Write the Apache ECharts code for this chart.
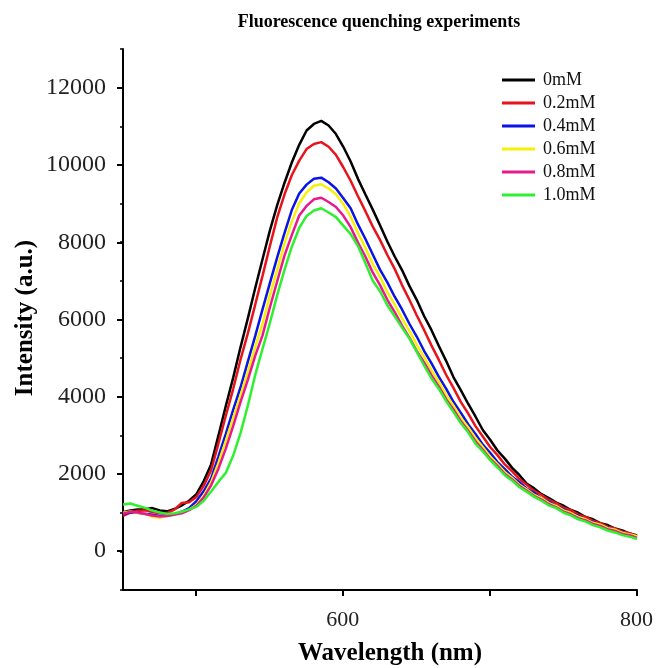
<!DOCTYPE html>
<html lang="en">
<head>
<meta charset="UTF-8">
<title>Fluorescence quenching experiments</title>
<style>
    * {
        margin: 0;
        padding: 0;
    }

    body {
        background-color: #fff;
    }

    #chart {
        width: 656px;
        height: 668px;
    }
</style>
</head>
<body>
<div id="chart"></div>
<script src="https://cdn.jsdelivr.net/npm/echarts@6/dist/echarts.min.js"></script>
<script>
    // wavelength (nm), 5 nm steps
    var wavelength = [
        450, 455, 460, 465, 470, 475, 480, 485, 490, 495,
        500, 505, 510, 515, 520, 525, 530, 535, 540, 545,
        550, 555, 560, 565, 570, 575, 580, 585, 590, 595,
        600, 605, 610, 615, 620, 625, 630, 635, 640, 645,
        650, 655, 660, 665, 670, 675, 680, 685, 690, 695,
        700, 705, 710, 715, 720, 725, 730, 735, 740, 745,
        750, 755, 760, 765, 770, 775, 780, 785, 790, 795,
        800
    ];

    var mM00 = [
        1010, 1060, 1085, 1090, 1120, 1060, 1035, 1095, 1190, 1310,
        1480, 1820, 2250, 3000, 3760, 4490, 5280, 6030, 6810, 7560,
        8300, 8960, 9540, 10070, 10520, 10890, 11060, 11140, 11020, 10800,
        10470, 10090, 9640, 9240, 8850, 8440, 8020, 7630, 7280, 6870,
        6510, 6090, 5730, 5320, 4930, 4510, 4170, 3820, 3490, 3140,
        2890, 2610, 2400, 2160, 1970, 1750, 1630, 1480, 1380, 1260,
        1180, 1070, 1000, 890, 830, 730, 680, 590, 540, 460,
        410
    ];
    var mM02 = [
        920, 1000, 1050, 1060, 1020, 985, 990, 1080, 1250, 1270,
        1410, 1700, 2100, 2790, 3510, 4200, 4960, 5640, 6380, 7130,
        7900, 8640, 9240, 9740, 10110, 10410, 10540, 10590, 10470, 10260,
        9940, 9590, 9190, 8810, 8410, 8060, 7670, 7310, 6890, 6510,
        6110, 5730, 5330, 4960, 4570, 4230, 3870, 3570, 3240, 2970,
        2700, 2490, 2250, 2070, 1870, 1720, 1560, 1460, 1330, 1250,
        1130, 1060, 950, 890, 790, 730, 640, 590, 510, 470,
        390
    ];
    var mM04 = [
        960, 1010, 1000, 975, 945, 915, 935, 950, 1025, 1120,
        1300, 1560, 1890, 2460, 3040, 3660, 4240, 4910, 5570, 6260,
        6940, 7610, 8240, 8840, 9260, 9490, 9640, 9670, 9550, 9390,
        9140, 8880, 8460, 8090, 7690, 7290, 6960, 6590, 6260, 5890,
        5560, 5190, 4870, 4520, 4210, 3870, 3590, 3290, 3040, 2760,
        2550, 2310, 2130, 1930, 1790, 1620, 1510, 1370, 1280, 1170,
        1090, 980, 920, 820, 760, 670, 620, 530, 490, 410,
        370
    ];
    var mM06 = [
        1000, 1035, 995, 970, 895, 870, 925, 955, 1005, 1080,
        1200, 1440, 1790, 2290, 2860, 3440, 4030, 4640, 5290, 5890,
        6630, 7290, 7970, 8540, 9010, 9290, 9460, 9500, 9390, 9240,
        8990, 8660, 8240, 7860, 7440, 7110, 6710, 6390, 6030, 5710,
        5350, 5040, 4690, 4390, 4050, 3770, 3460, 3210, 2930, 2700,
        2450, 2260, 2050, 1900, 1720, 1600, 1460, 1370, 1250, 1170,
        1060, 990, 890, 830, 740, 690, 600, 560, 480, 440,
        390
    ];
    var mM08 = [
        975, 1025, 1005, 965, 925, 905, 915, 955, 985, 1065,
        1180, 1395, 1710, 2140, 2660, 3240, 3860, 4440, 5060, 5590,
        6310, 6990, 7660, 8190, 8690, 8940, 9110, 9150, 9040, 8910,
        8690, 8390, 7990, 7630, 7220, 6890, 6510, 6190, 5840, 5530,
        5190, 4890, 4560, 4270, 3940, 3670, 3370, 3120, 2850, 2630,
        2390, 2210, 2000, 1860, 1690, 1570, 1430, 1340, 1220, 1140,
        1030, 960, 860, 800, 710, 660, 570, 530, 450, 420,
        350
    ];
    var mM10 = [
        1210, 1240, 1180, 1125, 1055, 1005, 965, 985, 1025, 1085,
        1150, 1310, 1550, 1800, 2030, 2480, 3060, 3770, 4560, 5240,
        5910, 6630, 7290, 7890, 8370, 8680, 8820, 8880, 8770, 8650,
        8430, 8210, 7900, 7460, 7010, 6730, 6370, 6080, 5790, 5510,
        5160, 4810, 4480, 4210, 3890, 3610, 3320, 3080, 2790, 2590,
        2360, 2170, 1970, 1830, 1660, 1540, 1410, 1310, 1190, 1120,
        1000, 930, 830, 770, 680, 620, 540, 490, 420, 380,
        320
    ];

    var seriesNames = ['0mM', '0.2mM', '0.4mM', '0.6mM', '0.8mM', '1.0mM'];
    var seriesData = [mM00, mM02, mM04, mM06, mM08, mM10];
    var colors = ['#000000', '#e8131b', '#0a14e6', '#f5f00a', '#e8198c', '#2ff02f'];
    var xTickLabels = [600, 800];

    var serif = '"Liberation Serif", "Times New Roman", serif';

    function pairs(values) {
        return values.map(function (v, i) {
            return [wavelength[i], v];
        });
    }

    var series = seriesData.map(function (values, k) {
        return {
            name: seriesNames[k],
            type: 'line',
            xAxisIndex: 0,
            yAxisIndex: 0,
            data: pairs(values),
            showSymbol: false,
            symbol: 'none',
            lineStyle: {width: 2.5, color: colors[k]},
            itemStyle: {color: colors[k]}
        };
    });
    // second grid only carries the labelled ticks
    series.push({type: 'line', xAxisIndex: 1, yAxisIndex: 1, data: [], silent: true});

    var chart = echarts.init(document.getElementById('chart'));
    chart.setOption({
        animation: false,
        backgroundColor: '#fff',
        color: colors,
        legend: {
            data: seriesNames,
            orient: 'vertical',
            left: 497,
            top: 66,
            itemWidth: 33,
            itemHeight: 3,
            itemGap: 5,
            icon: 'rect',
            textStyle: {
                fontFamily: serif,
                fontSize: 18,
                lineHeight: 18,
                color: '#111',
                padding: [0, 0, 0, 3]
            }
        },
        grid: [
            {left: 123, right: 19, top: 49, bottom: 78},
            {left: 196, right: 19, top: 88, bottom: 117}
        ],
        xAxis: [
            {
                type: 'value',
                gridIndex: 0,
                min: 450,
                max: 800,
                axisLine: {show: true, onZero: false, lineStyle: {color: '#000', width: 2}},
                axisTick: {show: false},
                axisLabel: {show: false},
                splitLine: {show: false}
            },
            {
                type: 'value',
                gridIndex: 1,
                min: 500,
                max: 800,
                interval: 100,
                offset: 39,
                axisLine: {show: false, onZero: false},
                axisTick: {show: true, length: 6, lineStyle: {color: '#000', width: 2}},
                axisLabel: {
                    margin: 19,
                    fontFamily: serif,
                    fontSize: 22,
                    color: '#222',
                    formatter: function (v) {
                        return xTickLabels.indexOf(v) >= 0 ? String(v) : '';
                    }
                },
                splitLine: {show: false}
            }
        ],
        yAxis: [
            {
                type: 'value',
                gridIndex: 0,
                min: -1000,
                max: 13000,
                interval: 1000,
                axisLine: {show: true, onZero: false, lineStyle: {color: '#000', width: 2}},
                axisTick: {show: true, length: 3, lineStyle: {color: '#000', width: 1.5}},
                axisLabel: {show: false},
                splitLine: {show: false}
            },
            {
                type: 'value',
                gridIndex: 1,
                min: 0,
                max: 12000,
                interval: 2000,
                offset: 73,
                axisLine: {show: false, onZero: false},
                axisTick: {show: true, length: 6, lineStyle: {color: '#000', width: 2}},
                axisLabel: {
                    margin: 17,
                    fontFamily: serif,
                    fontSize: 24,
                    color: '#222',
                    formatter: function (v) {
                        return String(v);
                    }
                },
                splitLine: {show: false}
            }
        ],
        graphic: [
            {
                type: 'text',
                x: 379,
                y: 22,
                style: {
                    text: 'Fluorescence quenching experiments',
                    font: 'bold 18px ' + serif,
                    fill: '#000',
                    align: 'center',
                    verticalAlign: 'middle'
                }
            },
            {
                type: 'text',
                x: 26,
                y: 318,
                rotation: Math.PI / 2,
                style: {
                    text: 'Intensity (a.u.)',
                    font: 'bold 25px ' + serif,
                    fill: '#000',
                    align: 'center',
                    verticalAlign: 'middle'
                }
            },
            {
                type: 'text',
                x: 390,
                y: 654,
                style: {
                    text: 'Wavelength (nm)',
                    font: 'bold 25px ' + serif,
                    fill: '#000',
                    align: 'center',
                    verticalAlign: 'middle'
                }
            }
        ],
        series: series
    });
</script>
</body>
</html>
